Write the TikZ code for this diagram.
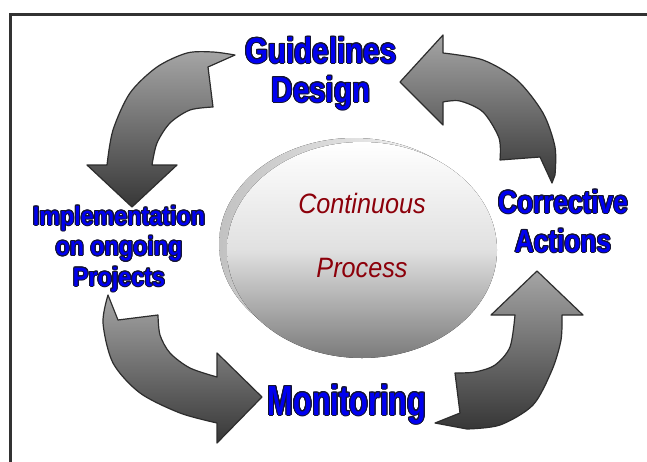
\documentclass[tikz,border=0pt]{standalone}
\usepackage{fontspec}
\usepackage[copies]{contour}
\usepackage{tikz}
\usetikzlibrary{calc}
\usetikzlibrary{positioning}

\setmainfont{Liberation Sans}
\newfontfamily\guidefont[FakeStretch=0.82]{Liberation Sans}
\newfontfamily\implfont[FakeStretch=0.88]{Liberation Sans}
\newfontfamily\monfont[FakeStretch=0.73]{Liberation Sans}
\newfontfamily\procfont[FakeStretch=0.9]{Liberation Sans}

\definecolor{lblblue}{RGB}{0,0,240}
\definecolor{lblline}{RGB}{20,20,50}
\definecolor{procred}{RGB}{140,0,10}
\definecolor{arrowtop}{RGB}{165,165,165}
\definecolor{arrowbot}{RGB}{55,55,55}
\definecolor{arrowline}{RGB}{45,45,45}
\definecolor{framegray}{RGB}{50,50,50}

\contourlength{1pt}
\newcommand{\outl}[1]{\contour{lblline}{#1}}

\begin{document}
\begin{tikzpicture}[
    x = 1pt,
    y = -1pt,
    stagelbl/.style = {
      text=lblblue,
      align=center,
      inner sep=0pt
    },
    midtxt/.style = {
      text=procred,
      align=center,
      inner sep=0pt,
      font=\procfont\itshape\fontsize{28}{64}\selectfont
    },
    cyclearrow/.style = {
      draw=arrowline,
      line width=1.2pt,
      line join=round,
      top color=arrowtop,
      bottom color=arrowbot
    }
  ]
    \useasboundingbox (0,0) rectangle (647,461);
    \fill[white] (0,0) rectangle (647,461);
    \draw[line width=3pt, framegray] (10,14) rectangle (700,520);

    % central disc
    \fill[left color=black!24, right color=white] (354,244) ellipse (135 and 106);
    \fill[top color=white, bottom color=black!52, middle color=black!12] (362,250) ellipse (135 and 108);

    % four curved arrows
    \path[cyclearrow] (235,55) -- (208,67) -- (213,107)
      -- plot[smooth] coordinates {(213,107) (190,110) (170,123) (157,143) (152,165)}
      -- (177,165) -- (132,207) -- (87,165) -- (107,165)
      -- plot[smooth] coordinates {(107,165) (113,130) (130,93) (157,67) (187,53) (213,52) (235,55)}
      -- cycle;
    \path[cyclearrow] (400,82) -- (443,35) -- (443,53)
      -- plot[smooth] coordinates {(443,53) (483,60) (517,80) (543,113) (555,147) (555,175)}
      -- (552,183) -- (540,157) -- (500,160)
      -- plot[smooth] coordinates {(500,160) (499,138) (483,112) (460,101) (443,102)}
      -- (443,125) -- cycle;
    \path[cyclearrow] (108,295) -- (118,320) -- (158,315)
      -- plot[smooth] coordinates {(158,315) (160,335) (170,353) (190,368) (217,377)}
      -- (217,353) -- (262,397) -- (217,443) -- (217,423)
      -- plot[smooth] coordinates {(217,423) (180,413) (140,393) (113,363) (103,323) (108,295)}
      -- cycle;
    \path[cyclearrow] (537,271) -- (583,315) -- (562,315)
      -- plot[smooth] coordinates {(562,315) (561,340) (552,370) (533,405) (500,425) (467,429)}
      -- (435,423) -- (460,413) -- (455,373)
      -- plot[smooth] coordinates {(455,373) (475,372) (495,365) (510,347) (515,315)}
      -- (491,315) -- cycle;

    % labels (base = last line)
    \node[stagelbl, font=\guidefont\bfseries\fontsize{36}{39}\selectfont, anchor=base]
      (guide) at (321,102) {\outl{Guidelines}\\\outl{Design}};
    \node[stagelbl, font=\guidefont\bfseries\fontsize{32}{39}\selectfont, anchor=base]
      (correct) at (563,252) {\outl{Corrective}\\\outl{Actions}};
    \node[stagelbl, font=\implfont\bfseries\fontsize{26.5}{30.5}\selectfont, anchor=base]
      (impl) at (119,286) {\outl{Implementation}\\\outl{on ongoing}\\\outl{Projects}};
    \node[stagelbl, font=\monfont\bfseries\fontsize{42}{44}\selectfont, anchor=base]
      (monitor) at (347,415) {\outl{Monitoring}};
    \node[midtxt, anchor=base] (contproc) at (362,277) {Continuous\\Process};
  \end{tikzpicture}
\end{document}
